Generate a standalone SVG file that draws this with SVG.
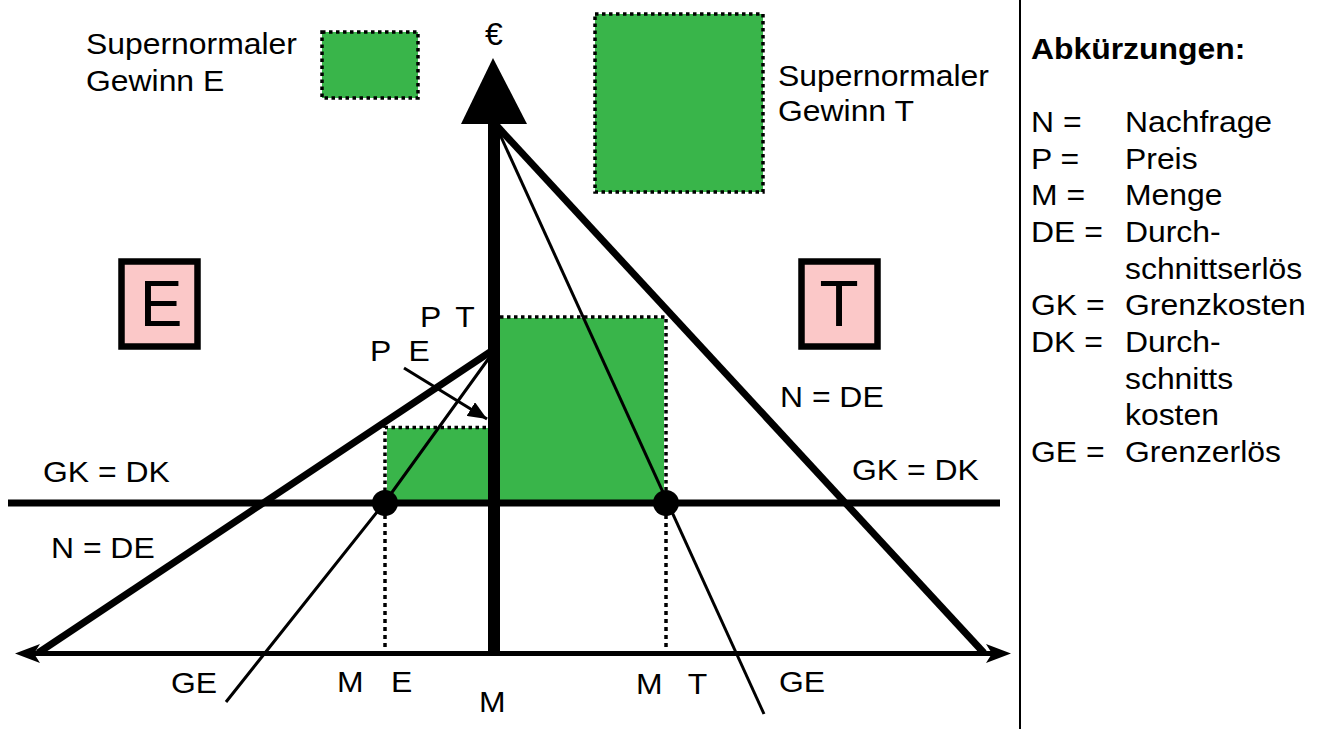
<svg xmlns="http://www.w3.org/2000/svg" width="1322" height="729" viewBox="0 0 1322 729">
<style>
.t{font-family:"Liberation Sans",Arial,sans-serif;font-size:29px;fill:#000}
.b{font-weight:bold}
.big{font-family:"Liberation Sans",Arial,sans-serif;font-size:64px;fill:#000;text-anchor:middle}
.g{fill:#39B54A}
.dot{fill:none;stroke:#000;stroke-width:3.5;stroke-dasharray:3.5 3.5}
.box{fill:#FBC8C8;stroke:#000;stroke-width:6.5}
.thick{stroke:#000;stroke-width:7;fill:none}
.thin{stroke:#000;stroke-width:3;fill:none}
</style>
<defs>
<marker id="pe" markerUnits="userSpaceOnUse" markerWidth="20" markerHeight="16" refX="19" refY="8" orient="auto">
<path d="M0,0 L19,8 L0,16 Z" fill="#000"/>
</marker>
</defs>
<rect width="1322" height="729" fill="#fff"/>

<g id="profit-areas">
<rect class="g" x="387" y="428" width="103" height="74"/>
<path class="dot" d="M385,512 V427.5 H489"/>
<rect class="g" x="500" y="318" width="164" height="184"/>
<path class="dot" d="M500,317 H666 V500"/>
</g>

<g id="connectors">
<line x1="385" y1="515" x2="385" y2="652" stroke="#000" stroke-width="3.5" stroke-dasharray="4 4"/>
<line x1="666" y1="515" x2="666" y2="652" stroke="#000" stroke-width="3.5" stroke-dasharray="4 4"/>
<line x1="8" y1="503" x2="1000" y2="503" stroke="#000" stroke-width="7"/>
<line x1="30" y1="653.5" x2="995" y2="653.5" stroke="#000" stroke-width="5"/>
<path d="M15,653.5 L40,644 L34,653.5 L40,663 Z" fill="#000"/>
<path d="M1011,653.5 L986,644 L992,653.5 L986,663 Z" fill="#000"/>
<line x1="494" y1="120" x2="494" y2="654" stroke="#000" stroke-width="12"/>
<path d="M493,58 L527,124 L461,124 Z" fill="#000"/>
<line class="thick" x1="38" y1="653" x2="490" y2="352"/>
<line class="thick" x1="497" y1="126" x2="984" y2="653"/>
<polyline class="thin" points="489,358 385,502 226,702"/>
<line class="thin" x1="497" y1="128" x2="764" y2="714"/>
<line class="thin" x1="404" y1="368" x2="487" y2="419" marker-end="url(#pe)"/>
<circle cx="385" cy="503" r="13" fill="#000"/>
<circle cx="666" cy="503" r="13" fill="#000"/>
</g>

<g id="legend-E">
<rect class="g" x="322" y="32" width="96" height="66"/>
<rect class="dot" x="322" y="32" width="96" height="66"/>
<text class="t" transform="translate(86 54) scale(1.1 1)">Supernormaler</text>
<text class="t" transform="translate(86 91) scale(1.1 1)">Gewinn E</text>
</g>
<g id="legend-T">
<rect class="g" x="595" y="14" width="168" height="178"/>
<rect class="dot" x="595" y="14" width="168" height="178"/>
<text class="t" transform="translate(778 86) scale(1.1 1)">Supernormaler</text>
<text class="t" transform="translate(778 121) scale(1.1 1)">Gewinn T</text>
</g>

<g id="box-E">
<rect class="box" x="121.5" y="261.5" width="76" height="85"/>
<text class="big" x="161" y="326">E</text>
</g>
<g id="box-T">
<rect class="box" x="801.5" y="261.5" width="76" height="85"/>
<text class="big" x="839" y="326">T</text>
</g>

<g id="labels">
<text class="t" x="494" y="45" text-anchor="middle" style="font-size:32px">€</text>
<text class="t" transform="translate(420 327) scale(1.1 1)">P<tspan x="32">T</tspan></text>
<text class="t" transform="translate(370 361) scale(1.1 1)">P<tspan x="35">E</tspan></text>
<text class="t" transform="translate(780 407) scale(1.1 1)">N = DE</text>
<text class="t" transform="translate(852 480) scale(1.1 1)">GK = DK</text>
<text class="t" transform="translate(43 482) scale(1.1 1)">GK = DK</text>
<text class="t" transform="translate(51 558) scale(1.1 1)">N = DE</text>
<text class="t" transform="translate(171 693) scale(1.1 1)">GE</text>
<text class="t" transform="translate(337 692) scale(1.1 1)">M<tspan x="49">E</tspan></text>
<text class="t" transform="translate(479 712) scale(1.1 1)">M</text>
<text class="t" transform="translate(636 694) scale(1.1 1)">M<tspan x="47">T</tspan></text>
<text class="t" transform="translate(779 692) scale(1.1 1)">GE</text>
</g>

<g id="abbreviations">
<line x1="1020" y1="0" x2="1020" y2="729" stroke="#000" stroke-width="2"/>
<text class="t b" transform="translate(1031 59) scale(1.1 1)">Abkürzungen:</text>
<text class="t" transform="translate(1031 132) scale(1.1 1)">N =</text>
<text class="t" transform="translate(1125 132) scale(1.1 1)">Nachfrage</text>
<text class="t" transform="translate(1031 168.5) scale(1.1 1)">P =</text>
<text class="t" transform="translate(1125 168.5) scale(1.1 1)">Preis</text>
<text class="t" transform="translate(1031 205) scale(1.1 1)">M =</text>
<text class="t" transform="translate(1125 205) scale(1.1 1)">Menge</text>
<text class="t" transform="translate(1031 241.5) scale(1.1 1)">DE =</text>
<text class="t" transform="translate(1125 241.5) scale(1.1 1)">Durch-</text>
<text class="t" transform="translate(1125 278.5) scale(1.1 1)">schnittserlös</text>
<text class="t" transform="translate(1031 315) scale(1.1 1)">GK =</text>
<text class="t" transform="translate(1125 315) scale(1.1 1)">Grenzkosten</text>
<text class="t" transform="translate(1031 351.5) scale(1.1 1)">DK =</text>
<text class="t" transform="translate(1125 351.5) scale(1.1 1)">Durch-</text>
<text class="t" transform="translate(1125 388.5) scale(1.1 1)">schnitts</text>
<text class="t" transform="translate(1125 425) scale(1.1 1)">kosten</text>
<text class="t" transform="translate(1031 461.5) scale(1.1 1)">GE =</text>
<text class="t" transform="translate(1125 461.5) scale(1.1 1)">Grenzerlös</text>
</g>
</svg>
